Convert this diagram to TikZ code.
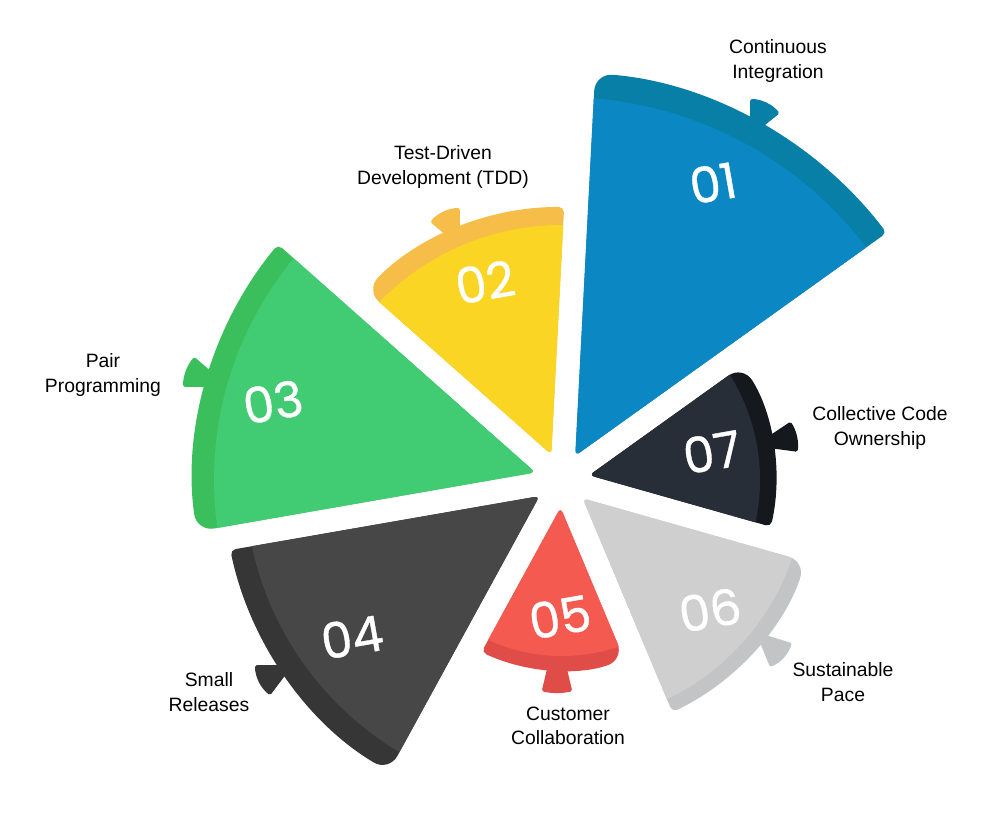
\documentclass[tikz,border=0pt]{standalone}
\usepackage{fontspec}
\setmainfont{Liberation Sans}
\newfontfamily\numfont{Poppins}[FakeBold=0.8]
\usepackage{tikz}
\usetikzlibrary{calc, positioning}
\definecolor{ciLight}{HTML}{0B88C4}
\definecolor{ciDark}{HTML}{077FA6}
\definecolor{tddLight}{HTML}{FBD523}
\definecolor{tddDark}{HTML}{F6BD48}
\definecolor{pairLight}{HTML}{41CB72}
\definecolor{pairDark}{HTML}{3BBF5C}
\definecolor{smallLight}{HTML}{474747}
\definecolor{smallDark}{HTML}{363636}
\definecolor{custLight}{HTML}{F45A4F}
\definecolor{custDark}{HTML}{E04D48}
\definecolor{paceLight}{HTML}{CFCFCF}
\definecolor{paceDark}{HTML}{C3C4C6}
\definecolor{codeLight}{HTML}{272E38}
\definecolor{codeDark}{HTML}{15181D}
\tikzstyle{lbl} = [align=center, font=\fontsize{11}{14}\selectfont, text=black, inner sep=0pt]
\tikzstyle{num} = [font=\numfont\fontsize{28}{28}\selectfont, text=white, rotate=10, inner sep=0pt]
\newcommand{\gapw}{12}
% slice: start, end, radius, rim width, fill, rim
\newcommand{\slice}[6]{%
	\pgfmathsetmacro{\slMid}{(#1+#2)/2}
	\pgfmathsetmacro{\slOff}{\gapw/sin((#2-#1)/2)}
	\pgfmathsetmacro{\slA}{#1+asin(\gapw/#3)}
	\pgfmathsetmacro{\slB}{#2-asin(\gapw/#3)}
	\begin{scope}
		\clip (\slMid:\slOff) [rounded corners=3pt] -- (\slA:#3) [rounded corners=10pt] arc[start angle=\slA, end angle=\slB, radius=#3] [rounded corners=3pt] -- cycle;
		\fill[#6] (0,0) circle[radius=#3+10];
		\fill[#5] (0,0) circle[radius=#3-#4];
	\end{scope}
}
% notch: apex, start, end, radius, colour
\newcommand{\notch}[5]{\fill[#5, rounded corners=1pt] (#1) -- ++(#2:#4) arc[start angle=#2, end angle=#3, radius=#4] -- cycle;}

\begin{document}
\begin{tikzpicture}[x=0.02cm, y=0.02cm]
	\useasboundingbox (-562,-351) rectangle (438,480);
	% notches on the rims
	\notch{188,343}{38.7}{90}{38}{ciDark}
	\notch{-102,233}{90}{140}{39}{tddDark}
	\notch{-333,93}{139}{180}{46}{pairDark}
	\notch{-269,-185}{180}{233}{38}{smallDark}
	\notch{-5,-147}{256.6}{283.4}{66}{custDark}
	\notch{193.6,-152}{292.4}{343}{38}{paceDark}
	\notch{192,34}{-7.6}{33.7}{44}{codeDark}
	% slices
	\slice{35.6}{87.03}{408}{25}{ciLight}{ciDark}
	\slice{87.03}{138.46}{273}{18}{tddLight}{tddDark}
	\slice{138.46}{189.89}{369}{21}{pairLight}{pairDark}
	\slice{189.89}{241.32}{339}{22}{smallLight}{smallDark}
	\slice{241.32}{292.75}{190}{14}{custLight}{custDark}
	\slice{292.75}{344.18}{257}{14}{paceLight}{paceDark}
	\slice{-15.82}{35.6}{214}{16}{codeLight}{codeDark}
	% numbers
	\node (n01) [num] at (151,297) {01};
	\node (n02) [num] at (-77,198) {02};
	\node (n03) [num] at (-289,78) {03};
	\node (n04) [num] at (-210,-157) {04};
	\node (n05) [num] at (-2,-137) {05};
	\node (n06) [num] at (148,-130) {06};
	\node (n07) [num] at (150,28) {07};
	% labels
	\node (ci) [lbl] at (216,419) {Continuous\\Integration};
	\node (tdd) [lbl] at (-119,313) {Test-Driven\\Development (TDD)};
	\node (pair) [lbl] at (-459,105) {Pair\\Programming};
	\node (cco) [lbl] at (318,52) {Collective Code\\Ownership};
	\node (small) [lbl] at (-353,-212) {Small\\Releases};
	\node (cust) [lbl] at (6,-246) {Customer\\Collaboration};
	\node (pace) [lbl] at (281,-202) {Sustainable\\Pace};
\end{tikzpicture}
\end{document}
